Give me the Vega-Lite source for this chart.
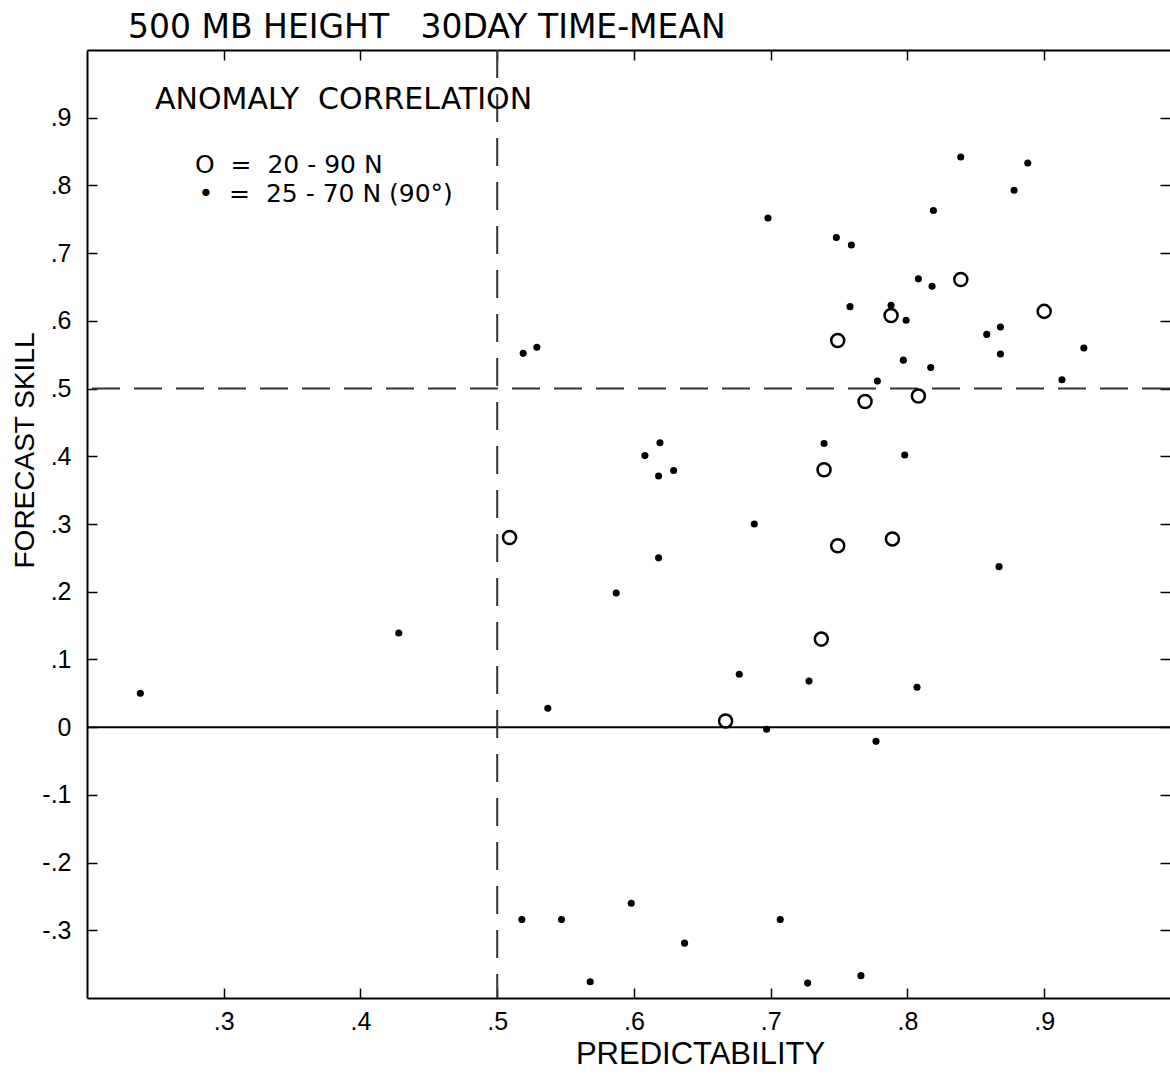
{
  "$schema": "https://vega.github.io/schema/vega-lite/v6.json",
  "autosize": {"type": "none"},
  "padding": {"left": 87, "top": 50, "right": 0, "bottom": 76},
  "width": 1083,
  "height": 948,
  "background": "white",
  "config": {
    "view": {"stroke": null},
    "axis": {
      "domainColor": "black",
      "domainWidth": 2,
      "tickColor": "black",
      "tickWidth": 1.5,
      "grid": false,
      "labelFont": "Liberation Sans",
      "labelFontSize": 25,
      "labelColor": "black",
      "titleFont": "Liberation Sans",
      "titleFontSize": 28,
      "titleFontWeight": "normal",
      "titleColor": "black"
    }
  },
  "data": {
    "values": [
      {"predictability": 0.519, "skill": 0.552, "band": "25-70N"},
      {"predictability": 0.529, "skill": 0.561, "band": "25-70N"},
      {"predictability": 0.698, "skill": 0.752, "band": "25-70N"},
      {"predictability": 0.839, "skill": 0.842, "band": "25-70N"},
      {"predictability": 0.888, "skill": 0.833, "band": "25-70N"},
      {"predictability": 0.878, "skill": 0.793, "band": "25-70N"},
      {"predictability": 0.819, "skill": 0.763, "band": "25-70N"},
      {"predictability": 0.748, "skill": 0.723, "band": "25-70N"},
      {"predictability": 0.759, "skill": 0.712, "band": "25-70N"},
      {"predictability": 0.808, "skill": 0.662, "band": "25-70N"},
      {"predictability": 0.818, "skill": 0.651, "band": "25-70N"},
      {"predictability": 0.758, "skill": 0.621, "band": "25-70N"},
      {"predictability": 0.788, "skill": 0.623, "band": "25-70N"},
      {"predictability": 0.799, "skill": 0.601, "band": "25-70N"},
      {"predictability": 0.868, "skill": 0.591, "band": "25-70N"},
      {"predictability": 0.858, "skill": 0.580, "band": "25-70N"},
      {"predictability": 0.929, "skill": 0.560, "band": "25-70N"},
      {"predictability": 0.868, "skill": 0.551, "band": "25-70N"},
      {"predictability": 0.797, "skill": 0.542, "band": "25-70N"},
      {"predictability": 0.817, "skill": 0.531, "band": "25-70N"},
      {"predictability": 0.778, "skill": 0.511, "band": "25-70N"},
      {"predictability": 0.913, "skill": 0.513, "band": "25-70N"},
      {"predictability": 0.619, "skill": 0.420, "band": "25-70N"},
      {"predictability": 0.608, "skill": 0.401, "band": "25-70N"},
      {"predictability": 0.629, "skill": 0.379, "band": "25-70N"},
      {"predictability": 0.618, "skill": 0.371, "band": "25-70N"},
      {"predictability": 0.739, "skill": 0.419, "band": "25-70N"},
      {"predictability": 0.798, "skill": 0.402, "band": "25-70N"},
      {"predictability": 0.688, "skill": 0.300, "band": "25-70N"},
      {"predictability": 0.618, "skill": 0.250, "band": "25-70N"},
      {"predictability": 0.867, "skill": 0.237, "band": "25-70N"},
      {"predictability": 0.587, "skill": 0.198, "band": "25-70N"},
      {"predictability": 0.428, "skill": 0.139, "band": "25-70N"},
      {"predictability": 0.677, "skill": 0.078, "band": "25-70N"},
      {"predictability": 0.728, "skill": 0.068, "band": "25-70N"},
      {"predictability": 0.807, "skill": 0.059, "band": "25-70N"},
      {"predictability": 0.239, "skill": 0.050, "band": "25-70N"},
      {"predictability": 0.537, "skill": 0.028, "band": "25-70N"},
      {"predictability": 0.697, "skill": -0.003, "band": "25-70N"},
      {"predictability": 0.777, "skill": -0.021, "band": "25-70N"},
      {"predictability": 0.598, "skill": -0.260, "band": "25-70N"},
      {"predictability": 0.518, "skill": -0.284, "band": "25-70N"},
      {"predictability": 0.547, "skill": -0.284, "band": "25-70N"},
      {"predictability": 0.707, "skill": -0.284, "band": "25-70N"},
      {"predictability": 0.637, "skill": -0.319, "band": "25-70N"},
      {"predictability": 0.766, "skill": -0.367, "band": "25-70N"},
      {"predictability": 0.568, "skill": -0.376, "band": "25-70N"},
      {"predictability": 0.727, "skill": -0.378, "band": "25-70N"},
      {"predictability": 0.839, "skill": 0.661, "band": "20-90N"},
      {"predictability": 0.788, "skill": 0.608, "band": "20-90N"},
      {"predictability": 0.900, "skill": 0.614, "band": "20-90N"},
      {"predictability": 0.749, "skill": 0.571, "band": "20-90N"},
      {"predictability": 0.769, "skill": 0.481, "band": "20-90N"},
      {"predictability": 0.808, "skill": 0.489, "band": "20-90N"},
      {"predictability": 0.739, "skill": 0.380, "band": "20-90N"},
      {"predictability": 0.509, "skill": 0.280, "band": "20-90N"},
      {"predictability": 0.749, "skill": 0.268, "band": "20-90N"},
      {"predictability": 0.789, "skill": 0.278, "band": "20-90N"},
      {"predictability": 0.737, "skill": 0.130, "band": "20-90N"},
      {"predictability": 0.667, "skill": 0.009, "band": "20-90N"}
    ]
  },
  "resolve": {"axis": {"x": "independent", "y": "independent"}},
  "layer": [
    {
      "data": {"values": [{"v": 0}]},
      "mark": {"type": "rule", "color": "black", "strokeWidth": 2},
      "encoding": {
        "y": {"field": "v", "type": "quantitative", "scale": {"domain": [-0.4, 1.0], "nice": false, "zero": false}, "axis": null}
      }
    },
    {
      "data": {"values": [{"v": 0.5}]},
      "mark": {"type": "rule", "color": "#333", "strokeWidth": 2, "strokeDash": [28, 14]},
      "encoding": {
        "y": {"field": "v", "type": "quantitative", "axis": null}
      }
    },
    {
      "data": {"values": [{"v": 0.5}]},
      "mark": {"type": "rule", "color": "#333", "strokeWidth": 2, "strokeDash": [28, 16]},
      "encoding": {
        "x": {"field": "v", "type": "quantitative", "scale": {"domain": [0.2, 0.992], "nice": false, "zero": false}, "axis": null}
      }
    },
    {
      "transform": [{"filter": "datum.band == '25-70N'"}],
      "mark": {"type": "point", "shape": "circle", "filled": true, "color": "black", "size": 50, "opacity": 1},
      "encoding": {
        "x": {
          "field": "predictability", "type": "quantitative",
          "scale": {"domain": [0.2, 0.992], "nice": false, "zero": false},
          "axis": {
            "orient": "bottom",
            "values": [0.3, 0.4, 0.5, 0.6, 0.7, 0.8, 0.9],
            "labelExpr": "replace(format(datum.value, '.1f'), '0.', '.')",
            "tickSize": -10,
            "labelPadding": 21,
            "title": "PREDICTABILITY",
            "titleFontSize": 31,
            "titleX": 613,
            "titleY": 56,
            "titleBaseline": "middle",
            "titleAnchor": "middle"
          }
        },
        "y": {
          "field": "skill", "type": "quantitative",
          "scale": {"domain": [-0.4, 1.0], "nice": false, "zero": false},
          "axis": {
            "orient": "left",
            "values": [-0.3, -0.2, -0.1, 0, 0.1, 0.2, 0.3, 0.4, 0.5, 0.6, 0.7, 0.8, 0.9],
            "labelExpr": "datum.value == 0 ? '0' : replace(replace(format(datum.value, '.1f'), '0.', '.'), '−', '-')",
            "tickSize": -10,
            "labelPadding": 26,
            "title": "FORECAST SKILL",
            "titleX": -62,
            "titleY": 400,
            "titleBaseline": "middle",
            "titleAnchor": "middle",
            "titleAngle": -90
          }
        }
      }
    },
    {
      "transform": [{"filter": "datum.band == '20-90N'"}],
      "mark": {"type": "point", "shape": "circle", "filled": false, "color": "black", "size": 170, "strokeWidth": 2.5, "opacity": 1},
      "encoding": {
        "x": {"field": "predictability", "type": "quantitative", "axis": {
          "orient": "top",
          "values": [0.3, 0.4, 0.5, 0.6, 0.7, 0.8, 0.9],
          "labels": false,
          "tickSize": -10,
          "title": null
        }},
        "y": {"field": "skill", "type": "quantitative", "axis": {
          "orient": "right",
          "domain": false,
          "values": [-0.3, -0.2, -0.1, 0, 0.1, 0.2, 0.3, 0.4, 0.5, 0.6, 0.7, 0.8, 0.9],
          "labels": false,
          "tickSize": -10,
          "title": null
        }}
      }
    },
    {
      "data": {"values": [{"t": "500 MB HEIGHT\u00a0\u00a0 30DAY TIME-MEAN", "x": 0.230, "y": 1.0177}]},
      "mark": {"type": "text", "align": "left", "baseline": "alphabetic", "font": "DejaVu Sans", "fontSize": 33, "color": "black"},
      "encoding": {
        "x": {"field": "x", "type": "quantitative", "axis": null},
        "y": {"field": "y", "type": "quantitative", "axis": null},
        "text": {"field": "t"}
      }
    },
    {
      "data": {"values": [{"t": "ANOMALY\u00a0 CORRELATION", "x": 0.2497, "y": 0.926}]},
      "mark": {"type": "text", "align": "left", "baseline": "middle", "font": "DejaVu Sans", "fontSize": 30, "color": "black"},
      "encoding": {
        "x": {"field": "x", "type": "quantitative", "axis": null},
        "y": {"field": "y", "type": "quantitative", "axis": null},
        "text": {"field": "t"}
      }
    },
    {
      "data": {"values": [
        {"t": "O\u00a0 =\u00a0 20 - 90 N", "x": 0.279, "y": 0.830},
        {"t": "•\u00a0 =\u00a0 25 - 70 N (90°)", "x": 0.2815, "y": 0.787}
      ]},
      "mark": {"type": "text", "align": "left", "baseline": "middle", "font": "DejaVu Sans", "fontSize": 25, "color": "black"},
      "encoding": {
        "x": {"field": "x", "type": "quantitative", "axis": null},
        "y": {"field": "y", "type": "quantitative", "axis": null},
        "text": {"field": "t"}
      }
    }
  ]
}
